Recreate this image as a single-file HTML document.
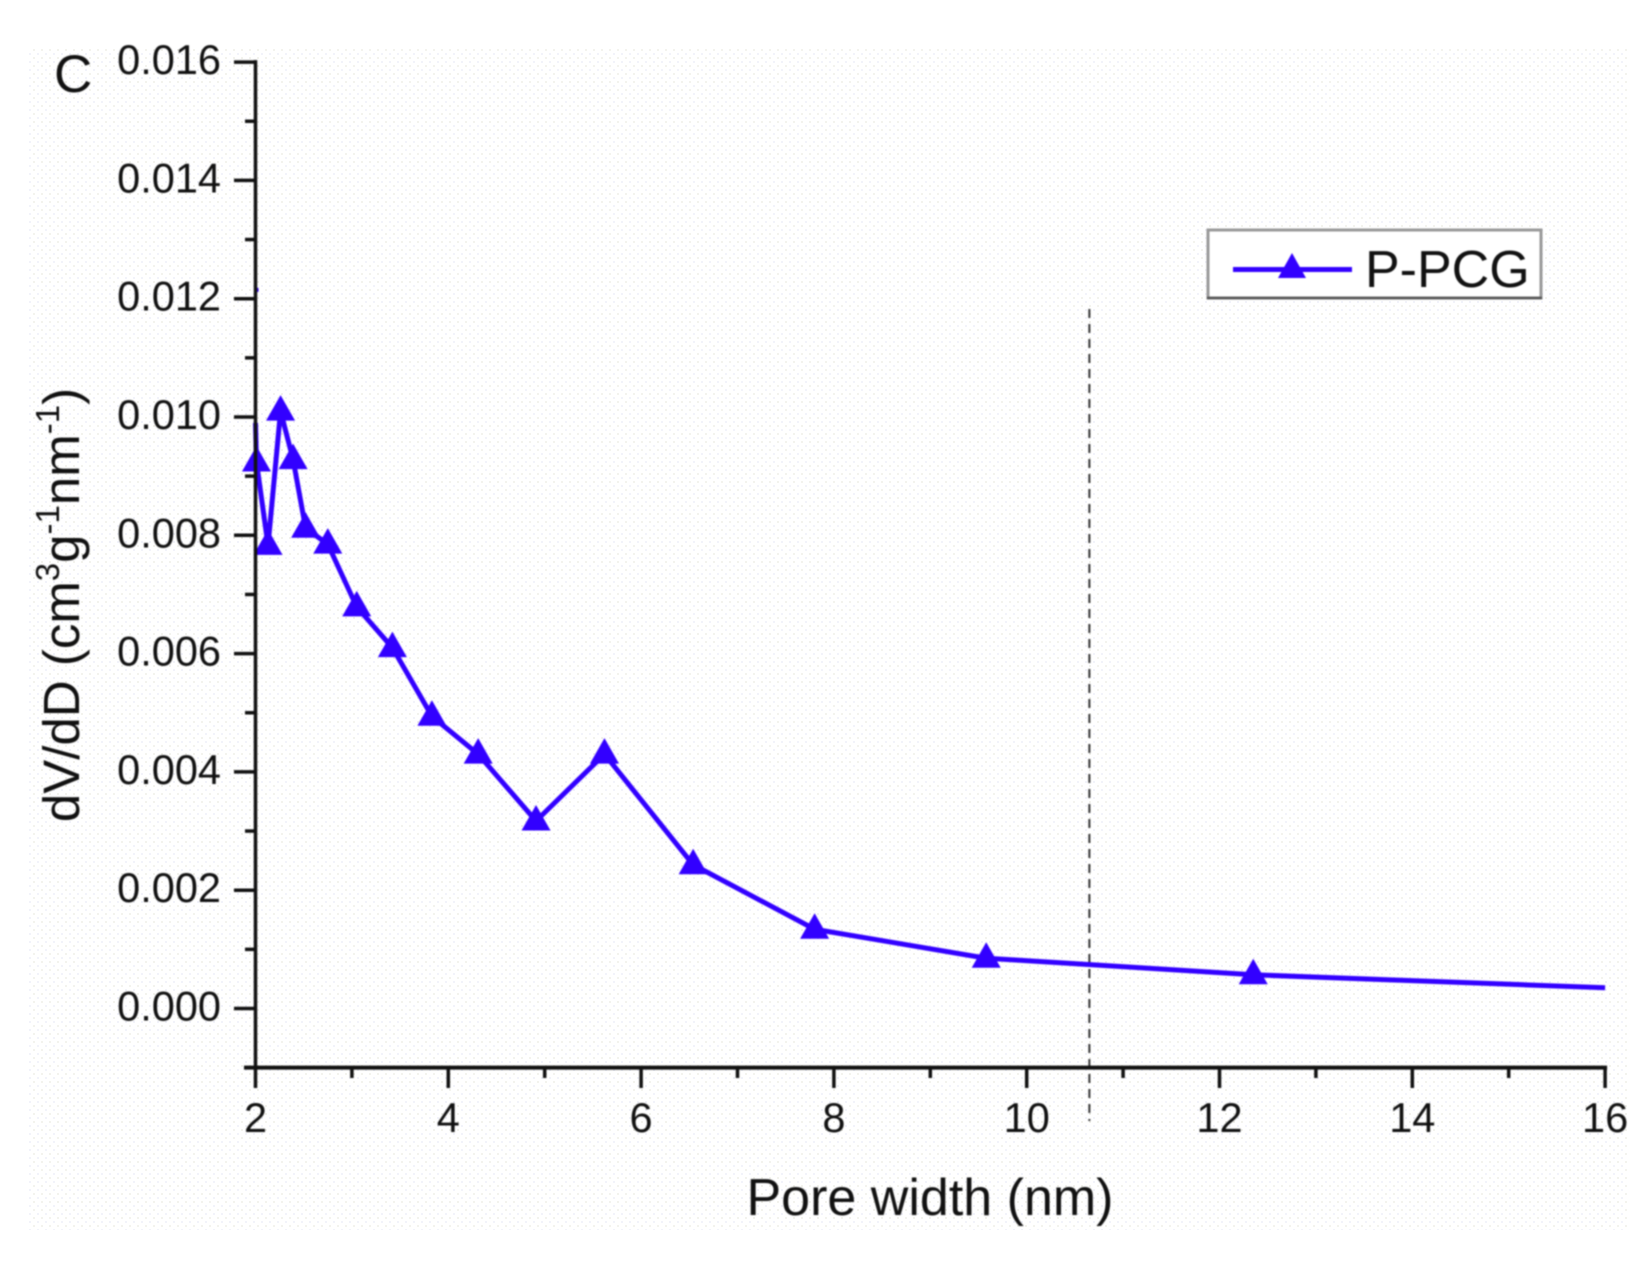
<!DOCTYPE html>
<html lang="en">
<head>
<meta charset="utf-8">
<title>Pore size distribution chart</title>
<style>
html,body{margin:0;padding:0;background:#fff;}
body{width:1651px;height:1262px;overflow:hidden;}
svg{display:block;}
text{font-family:"Liberation Sans",Arial,sans-serif;fill:#111111;}
#chart-content{filter:blur(0.7px);}
</style>
</head>
<body>
<svg id="chart" xmlns="http://www.w3.org/2000/svg" width="1651" height="1262" viewBox="0 0 1651 1262">
  <defs>
    <pattern id="dots" width="8" height="8" patternUnits="userSpaceOnUse">
      <rect x="1" y="1" width="2" height="2" fill="#f3f3ee"/>
      <rect x="5" y="5" width="2" height="2" fill="#f2f3fa"/>
    </pattern>
  </defs>
  <rect x="0" y="0" width="1651" height="1262" fill="#ffffff"/>
  <rect x="27" y="49" width="1600" height="1181" fill="url(#dots)"/>
  <g id="chart-content">
    <text x="54" y="92" font-size="53">C</text>
    <line id="ref-line" stroke="#333" stroke-width="2" stroke-dasharray="9 6"/>
    <g id="series-layer"></g>
    <g id="axis-layer"></g>
    <text x="930" y="1215" font-size="52" text-anchor="middle">Pore width (nm)</text>
    <text transform="translate(79 605) rotate(-90)" font-size="51" text-anchor="middle">dV/dD (cm<tspan font-size="33" dy="-20">3</tspan><tspan dy="20">g</tspan><tspan font-size="33" dy="-20">-1</tspan><tspan dy="20">nm</tspan><tspan font-size="33" dy="-20">-1</tspan><tspan dy="20">)</tspan></text>
    <g>
      <rect x="1208" y="230" width="333" height="68" fill="#ffffff" stroke="#999999" stroke-width="3"/>
      <line x1="1207" y1="298" x2="1542" y2="298" stroke="#555555" stroke-width="2.5"/>
      <line x1="1233" y1="269.5" x2="1352" y2="269.5" stroke="#3200ff" stroke-width="5"/>
      <polygon points="1292,253 1306,278 1278,278" fill="#3200ff"/>
      <text x="1365" y="287" font-size="52">P-PCG</text>
    </g>
  </g>
</svg>
<script>
const poreWidths = [2.0, 2.01, 2.13, 2.26, 2.39, 2.52, 2.75, 3.05, 3.42, 3.83, 4.31, 4.91, 5.62, 6.54, 7.80, 9.58, 12.35, 16.0];
const dvdd = [0.0099, 0.00924, 0.00783, 0.0101, 0.00928, 0.00812, 0.00785, 0.00679, 0.0061, 0.00494, 0.0043, 0.00317, 0.0043, 0.00243, 0.00134, 0.00085, 0.00057, 0.00035];
const markerFlags = [0, 1, 1, 1, 1, 1, 1, 1, 1, 1, 1, 1, 1, 1, 1, 1, 1, 0];
const strayPore = [2.0];
const strayValue = [0.0122];
const xMajorTicks = [2, 4, 6, 8, 10, 12, 14, 16];
const xMinorTicks = [3, 5, 7, 9, 11, 13, 15];
const yMajorTicks = [0, 0.002, 0.004, 0.006, 0.008, 0.01, 0.012, 0.014, 0.016];
const yMinorTicks = [-0.001, 0.001, 0.003, 0.005, 0.007, 0.009, 0.011, 0.013, 0.015];
const referencePore = 10.65;

const NS = 'http://www.w3.org/2000/svg';
const xScale = v => 255.5 + (v - 2) * 96.4;
const yScale = v => 1008.5 - v * 59150;
const seriesLayer = document.getElementById('series-layer');
const axisLayer = document.getElementById('axis-layer');
const axisColor = '#111111';

function make(tag, parent, attrs) {
  const el = document.createElementNS(NS, tag);
  for (const k in attrs) el.setAttribute(k, attrs[k]);
  parent.appendChild(el);
  return el;
}

const refLine = document.getElementById('ref-line');
refLine.setAttribute('x1', xScale(referencePore));
refLine.setAttribute('x2', xScale(referencePore));
refLine.setAttribute('y1', 309);
refLine.setAttribute('y2', 1121);

const seriesLine = make('polyline', seriesLayer, {
  points: poreWidths.map((x, i) => xScale(x) + ',' + yScale(dvdd[i])).join(' '),
  fill: 'none', stroke: '#3200ff', 'stroke-width': 5, 'stroke-linejoin': 'round'
});



poreWidths.forEach((x, i) => {
  if (!markerFlags[i]) return;
  const cx = xScale(x), cy = yScale(dvdd[i]);
  const marker = make('polygon', seriesLayer, {
    points: cx + ',' + (cy - 16) + ' ' + (cx + 14.5) + ',' + (cy + 9.5) + ' ' + (cx - 14.5) + ',' + (cy + 9.5),
    fill: '#3200ff'
  });
  
  
});

strayPore.forEach((x, i) => {
  const stray = make('line', seriesLayer, {
    x1: xScale(x), x2: xScale(x) + 3,
    y1: yScale(strayValue[i]) + 3, y2: yScale(strayValue[i]) + 3,
    stroke: '#3200ff', 'stroke-width': 4
  });
  
  
});

const xAxisLine = make('line', axisLayer, {x1: 244, y1: yScale(-0.001), x2: xScale(16) + 2, y2: yScale(-0.001), stroke: axisColor, 'stroke-width': 4});



const yAxisLine = make('line', axisLayer, {x1: xScale(2), y1: yScale(0.016) - 2, x2: xScale(2), y2: yScale(-0.001), stroke: axisColor, 'stroke-width': 3.5});



yMajorTicks.forEach(v => {
  const tick = make('line', axisLayer, {x1: 234, x2: xScale(2), y1: yScale(v), y2: yScale(v), stroke: axisColor, 'stroke-width': 3.5});
  
  
  const label = make('text', axisLayer, {x: 221, y: yScale(v) + 12, 'font-size': 41.5, 'text-anchor': 'end'});
  label.textContent = v.toFixed(3);
  
  
});

yMinorTicks.forEach(v => {
  const tick = make('line', axisLayer, {x1: 245, x2: xScale(2), y1: yScale(v), y2: yScale(v), stroke: axisColor, 'stroke-width': 3.5});
  
  
});

xMajorTicks.forEach(v => {
  const tick = make('line', axisLayer, {x1: xScale(v), x2: xScale(v), y1: yScale(-0.001), y2: 1088, stroke: axisColor, 'stroke-width': 3.5});
  
  
  const label = make('text', axisLayer, {x: xScale(v), y: 1132, 'font-size': 41.5, 'text-anchor': 'middle'});
  label.textContent = String(v);
  
  
});

xMinorTicks.forEach(v => {
  const tick = make('line', axisLayer, {x1: xScale(v), x2: xScale(v), y1: yScale(-0.001), y2: 1078, stroke: axisColor, 'stroke-width': 3.5});
  
  
});
</script>
</body>
</html>
